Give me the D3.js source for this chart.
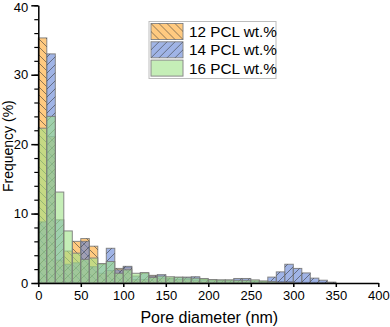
<!DOCTYPE html>
<html>
<head>
<meta charset="utf-8">
<script src="https://cdn.jsdelivr.net/npm/d3@7"></script>
<style>
    body { margin: 0; background: #fff; }
    svg { display: block; font-family: "Liberation Sans", Arial, sans-serif; }
</style>
</head>
<body>
<svg class="chart"></svg>
<script>
// bin starts (nm), 10 nm wide
const binStarts = d3.range(0, 400, 10);

const pcl12 = [35.3, 21.1, 3.3, 4.6, 6.0, 6.4, 5.3, 1.4, 1.8, 2.1, 2.3, 0.5, 0.5, 1.1, 0.7, 0.6, 0.5, 0.5, 0.4, 0.4,
    0.3, 0.3, 0.3, 0.3, 0.3, 0.2, 0.2, 0.2, 0.2, 0.2, 0.1, 0.1, 0.1, 0.1, 0.1, 0, 0, 0, 0, 0];
const pcl14 = [8.8, 33.0, 9.1, 2.7, 2.9, 6.0, 2.35, 2.7, 5.0, 1.9, 2.4, 1.0, 1.4, 1.0, 1.2, 0.7, 0.8, 0.85, 0.9, 0.5,
    0.4, 0.4, 0.4, 0.65, 0.65, 0.3, 0.2, 0.85, 1.6, 2.7, 2.1, 1.45, 0.7, 0.4, 0.1, 0, 0, 0, 0, 0];
const pcl16 = [22.3, 24.0, 13.1, 7.5, 4.3, 3.4, 3.6, 2.8, 3.1, 1.4, 1.9, 1.4, 1.5, 0.8, 1.0, 0.9, 0.85, 0.75, 0.7, 0.65,
    0.5, 0.45, 0.45, 0.4, 0.4, 0.45, 0.3, 0.2, 0.1, 0.1, 0, 0, 0, 0, 0, 0, 0, 0, 0, 0];

const seriesNames = [`12 PCL wt.%`, `14 PCL wt.%`, `16 PCL wt.%`];
const xTicks = [0, 50, 100, 150, 200, 250, 300, 350, 400];
const yTicks = [0, 10, 20, 30, 40];

const width = 390;
const height = 327;

const series = [
    { name: seriesNames[0], values: pcl12, fill: `#FFA72B`, hatch: `url(#hatchBack)` },
    { name: seriesNames[1], values: pcl14, fill: `#6182D5`, hatch: `url(#hatchFwd)` },
    { name: seriesNames[2], values: pcl16, fill: `#9EE387`, hatch: null }
];

const xScale = d3.scaleLinear()
    .domain([0, 400])
    .range([38.3, 378.3]);

const yScale = d3.scaleLinear()
    .domain([0, 40])
    .range([283, 5.3]);

const chart = d3.select(`.chart`)
    .attr(`width`, width)
    .attr(`height`, height);

const defs = chart.append(`defs`);
defs.append(`pattern`)
    .attr(`id`, `hatchBack`)
    .attr(`patternUnits`, `userSpaceOnUse`)
    .attr(`width`, 8)
    .attr(`height`, 8)
    .append(`path`)
    .attr(`d`, `M0,0L8,8M-2,6L2,10M6,-2L10,2`)
    .attr(`stroke`, `#333`)
    .attr(`stroke-width`, 0.7);
defs.append(`pattern`)
    .attr(`id`, `hatchFwd`)
    .attr(`patternUnits`, `userSpaceOnUse`)
    .attr(`width`, 8)
    .attr(`height`, 8)
    .append(`path`)
    .attr(`d`, `M0,8L8,0M-2,2L2,-2M6,10L10,6`)
    .attr(`stroke`, `#333`)
    .attr(`stroke-width`, 0.7);

// bars, one layer per series
series.forEach((s) => {
    const g = chart.append(`g`);
    const bars = g.selectAll(`g`)
        .data(binStarts.map((b, i) => ({ x0: b, x1: b + 10, v: s.values[i] })))
        .enter()
        .append(`g`);
    bars.append(`rect`)
        .attr(`x`, d => xScale(d.x0))
        .attr(`y`, d => yScale(d.v))
        .attr(`width`, d => xScale(d.x1) - xScale(d.x0))
        .attr(`height`, d => yScale(0) - yScale(d.v))
        .attr(`fill`, s.fill)
        .attr(`fill-opacity`, 0.6)
        .attr(`stroke`, `#7a7a7a`)
        .attr(`stroke-opacity`, 0.9)
        .attr(`stroke-width`, 1);
    if (s.hatch) {
        bars.append(`rect`)
            .attr(`x`, d => xScale(d.x0))
            .attr(`y`, d => yScale(d.v))
            .attr(`width`, d => xScale(d.x1) - xScale(d.x0))
            .attr(`height`, d => yScale(0) - yScale(d.v))
            .attr(`fill`, s.hatch)
            .attr(`opacity`, 0.8);
    }
});

// x axis
const xAxis = d3.axisBottom(xScale)
    .tickValues(xTicks)
    .tickSize(4)
    .tickPadding(4)
    .tickSizeOuter(0);
const gx = chart.append(`g`)
    .attr(`transform`, `translate(0, ${yScale(0)})`)
    .call(xAxis);
gx.select(`.domain`).attr(`stroke-width`, 1.5);
gx.selectAll(`.tick line`).attr(`stroke-width`, 1.5);
gx.selectAll(`.tick text`)
    .attr(`font-size`, 13)
    .attr(`font-family`, `"Liberation Sans", Arial, sans-serif`)
    .attr(`fill`, `#000`);

// y axis with minor ticks
const yAxisMinor = d3.axisLeft(yScale)
    .tickValues(d3.range(0, 41, 2))
    .tickSize(4)
    .tickFormat(``)
    .tickSizeOuter(0);
chart.append(`g`)
    .attr(`transform`, `translate(${xScale(0)}, 0)`)
    .call(yAxisMinor)
    .call(g => g.select(`.domain`).remove())
    .selectAll(`.tick line`).attr(`stroke-width`, 1.2);

const yAxis = d3.axisLeft(yScale)
    .tickValues(yTicks)
    .tickSize(7)
    .tickPadding(3)
    .tickSizeOuter(0);
const gy = chart.append(`g`)
    .attr(`transform`, `translate(${xScale(0)}, 0)`)
    .call(yAxis);
gy.select(`.domain`).attr(`stroke-width`, 1.5);
gy.selectAll(`.tick line`).attr(`stroke-width`, 1.5);
gy.selectAll(`.tick text`)
    .attr(`font-size`, 13)
    .attr(`font-family`, `"Liberation Sans", Arial, sans-serif`)
    .attr(`fill`, `#000`)
    .attr(`dy`, d => d === 40 ? `0.5em` : `0.32em`);

// axis titles
chart.append(`text`)
    .attr(`x`, xScale(200) + 1)
    .attr(`y`, 323)
    .attr(`text-anchor`, `middle`)
    .attr(`font-size`, 16)
    .text(`Pore diameter (nm)`);

chart.append(`text`)
    .attr(`transform`, `translate(13, ${yScale(20) + 2}) rotate(-90)`)
    .attr(`text-anchor`, `middle`)
    .attr(`font-size`, 14)
    .text(`Frequency (%)`);

// legend
const legend = chart.append(`g`)
    .attr(`transform`, `translate(149, 21.5)`);
legend.append(`rect`)
    .attr(`width`, 127)
    .attr(`height`, 57)
    .attr(`fill`, `#fff`)
    .attr(`stroke`, `#bdbdbd`)
    .attr(`stroke-width`, 1);

const items = legend.selectAll(`g.item`)
    .data(series)
    .enter()
    .append(`g`)
    .attr(`class`, `item`)
    .attr(`transform`, (d, i) => `translate(2, ${2 + i * 18.3})`);
items.append(`rect`)
    .attr(`width`, 32)
    .attr(`height`, 16)
    .attr(`fill`, d => d.fill)
    .attr(`fill-opacity`, 0.6)
    .attr(`stroke`, `#8a8a8a`)
    .attr(`stroke-width`, 1);
items.filter(d => d.hatch)
    .append(`rect`)
    .attr(`width`, 32)
    .attr(`height`, 16)
    .attr(`fill`, d => d.hatch)
    .attr(`opacity`, 0.8);
items.append(`text`)
    .attr(`x`, 38)
    .attr(`y`, 13.5)
    .attr(`font-size`, 15.3)
    .text(d => d.name);
</script>
</body>
</html>
